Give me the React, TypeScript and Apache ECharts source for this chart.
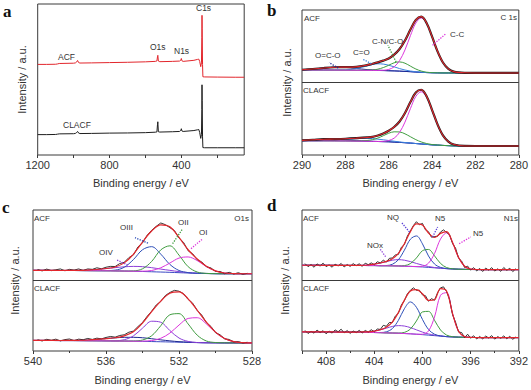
import React, { useEffect, useRef } from "react";
import * as echarts from "echarts";

// ---------------- Panel a : survey ----------------
const surveyEnergy = [1200, 1150, 1100, 1090, 1080, 1000, 990, 983, 978, 972, 965, 900, 800, 700, 600, 545, 536, 533, 531, 528, 520, 450, 410, 403, 400, 397, 390, 330, 310, 303, 298, 292, 288, 286, 285, 284, 282, 280, 270, 200, 100, 50];
const surveyACF = [60.0, 60.0, 60.1, 60.3, 60.6, 60.8, 61.0, 61.6, 62.6, 61.2, 60.9, 61.0, 61.2, 61.4, 61.7, 62.0, 62.3, 65.0, 66.0, 62.2, 61.8, 62.0, 62.2, 62.8, 63.9, 62.4, 62.0, 62.7, 63.3, 63.5, 62.0, 58.5, 61.0, 78.0, 92.5, 84.0, 60.0, 51.8, 51.7, 51.6, 51.5, 51.5];
const surveyCLACF = [13.5, 13.5, 13.6, 13.8, 14.0, 14.1, 14.3, 14.9, 15.6, 14.5, 14.2, 14.3, 14.5, 14.6, 14.8, 15.1, 15.3, 20.0, 22.0, 15.4, 15.2, 15.4, 15.6, 16.3, 17.4, 15.9, 15.6, 16.2, 16.7, 16.9, 15.0, 11.0, 13.5, 30.0, 46.5, 36.0, 12.0, 4.9, 4.8, 4.8, 4.8, 4.8];
const surveyTickValues = [1200, 1000, 800, 600, 400, 200];
const surveyLabelValues = [1200, 800, 400];

// ---------------- Panel b : C 1s ----------------
const c1sEnergy = [290, 289.5, 289, 288.5, 288, 287.5, 287, 286.75, 286.5, 286.25, 286, 285.75, 285.5, 285.25, 285, 284.75, 284.5, 284.25, 284, 283.75, 283.5, 283.25, 283, 282.5, 282, 281, 280];
const c1sAcfBase = [58.6, 58.6, 58.6, 58.55, 58.5, 58.45, 58.4, 58.35, 58.3, 58.2, 58.1, 58.0, 57.85, 57.65, 57.45, 57.2, 57.0, 56.85, 56.72, 56.65, 56.6, 56.6, 56.6, 56.6, 56.6, 56.6, 56.6];
const c1sAcfCC = [58.6, 58.6, 58.6, 58.55, 58.5, 58.45, 58.4, 58.35, 58.35, 58.44, 59.0, 60.8, 65.1, 72.5, 82.3, 91.0, 94.5, 90.7, 81.5, 71.5, 63.8, 59.4, 57.5, 56.65, 56.6, 56.6, 56.6];
const c1sAcfCN = [58.6, 58.6, 58.6, 58.55, 58.5, 58.45, 58.5, 58.6, 59.2, 60.3, 61.9, 63.6, 64.2, 63.3, 61.3, 59.3, 57.9, 57.1, 56.8, 56.65, 56.6, 56.6, 56.6, 56.6, 56.6, 56.6, 56.6];
const c1sAcfCO = [58.6, 58.6, 58.6, 58.6, 58.7, 59.6, 61.4, 62.4, 62.9, 62.7, 61.9, 60.8, 59.6, 58.6, 57.9, 57.4, 57.1, 56.85, 56.72, 56.65, 56.6, 56.6, 56.6, 56.6, 56.6, 56.6, 56.6];
const c1sAcfOCO = [58.8, 59.3, 60.0, 60.5, 60.4, 59.7, 58.9, 58.7, 58.5, 58.3, 58.1, 58.0, 57.85, 57.65, 57.45, 57.2, 57.0, 56.85, 56.72, 56.65, 56.6, 56.6, 56.6, 56.6, 56.6, 56.6, 56.6];
const c1sAcfFit = [58.8, 59.3, 60.0, 60.5, 60.6, 60.8, 62.0, 62.9, 63.9, 65.1, 66.6, 69.2, 73.1, 79.0, 86.5, 93.2, 95.4, 90.9, 81.6, 71.5, 63.8, 59.4, 57.5, 56.7, 56.6, 56.6, 56.6];
const c1sClBase = [9.8, 9.8, 9.8, 9.75, 9.7, 9.6, 9.5, 9.4, 9.3, 9.2, 9.1, 8.9, 8.7, 8.45, 8.2, 7.9, 7.6, 7.3, 7.0, 6.8, 6.6, 6.45, 6.3, 6.2, 6.2, 6.2, 6.2];
const c1sClCC = [9.8, 9.8, 9.8, 9.75, 9.7, 9.6, 9.5, 9.4, 9.35, 9.4, 10.0, 11.6, 15.6, 22.7, 32.0, 40.4, 43.6, 39.8, 30.8, 21.0, 13.5, 9.2, 7.2, 6.25, 6.2, 6.2, 6.2];
const c1sClCN = [9.8, 9.8, 9.8, 9.75, 9.7, 9.65, 10.0, 10.6, 11.7, 13.3, 15.0, 16.0, 15.9, 14.6, 12.6, 10.6, 9.0, 7.9, 7.2, 6.9, 6.6, 6.45, 6.3, 6.2, 6.2, 6.2, 6.2];
const c1sClCO = [9.8, 9.8, 9.9, 10.1, 10.6, 11.2, 11.5, 11.3, 10.9, 10.5, 10.0, 9.5, 9.0, 8.6, 8.3, 7.9, 7.6, 7.3, 7.0, 6.8, 6.6, 6.45, 6.3, 6.2, 6.2, 6.2, 6.2];
const c1sClOCO = [10.1, 10.5, 10.8, 10.7, 10.3, 9.9, 9.6, 9.45, 9.3, 9.2, 9.1, 8.9, 8.7, 8.45, 8.2, 7.9, 7.6, 7.3, 7.0, 6.8, 6.6, 6.45, 6.3, 6.2, 6.2, 6.2, 6.2];
const c1sClFit = [10.1, 10.5, 10.9, 11.0, 11.2, 11.6, 12.1, 12.5, 13.4, 14.8, 16.7, 19.3, 23.1, 29.0, 36.5, 43.1, 45.0, 40.4, 31.0, 21.1, 13.5, 9.2, 7.2, 6.25, 6.2, 6.2, 6.2];

// ---------------- Panel c : O 1s ----------------
const o1sEnergy = [540, 539.5, 539, 538.5, 538, 537.5, 537, 536.5, 536, 535.5, 535, 534.5, 534, 533.5, 533, 532.5, 532, 531.5, 531, 530.5, 530, 529.5, 529, 528.5, 528];
const o1sAcfBase = [57.2, 57.2, 57.15, 57.1, 57.1, 57.05, 57.0, 56.95, 56.9, 56.8, 56.7, 56.55, 56.4, 56.2, 56.0, 55.8, 55.55, 55.3, 55.1, 54.95, 54.85, 54.8, 54.8, 54.8, 54.8];
const o1sAcfOIII = [57.2, 57.2, 57.15, 57.1, 57.1, 57.05, 57.0, 56.95, 57.0, 57.35, 59.4, 64.8, 71.8, 74.0, 68.7, 61.4, 57.1, 55.6, 55.1, 54.95, 54.85, 54.8, 54.8, 54.8, 54.8];
const o1sAcfOII = [57.2, 57.2, 57.15, 57.1, 57.1, 57.05, 57.0, 56.95, 56.9, 56.8, 56.7, 56.8, 58.3, 63.5, 71.7, 74.6, 68.0, 59.8, 56.0, 55.05, 54.85, 54.8, 54.8, 54.8, 54.8];
const o1sAcfOI = [57.2, 57.2, 57.15, 57.1, 57.1, 57.05, 57.0, 56.95, 56.9, 56.8, 56.7, 56.6, 56.6, 57.1, 59.0, 62.4, 65.9, 66.7, 64.1, 59.9, 56.8, 55.3, 54.9, 54.8, 54.8];
const o1sAcfOIV = [57.2, 57.2, 57.15, 57.1, 57.2, 57.2, 57.4, 57.8, 58.4, 59.1, 59.7, 60.0, 59.8, 59.1, 58.1, 57.2, 56.3, 55.6, 55.2, 55.0, 54.85, 54.8, 54.8, 54.8, 54.8];
const o1sAcfFit = [57.2, 57.2, 57.15, 57.1, 57.2, 57.2, 57.4, 57.8, 58.5, 59.6, 62.5, 68.6, 77.3, 85.1, 89.5, 88.1, 80.5, 71.8, 65.2, 60.1, 56.8, 55.3, 54.9, 54.8, 54.8];
const o1sClBase = [7.5, 7.5, 7.45, 7.4, 7.4, 7.35, 7.3, 7.25, 7.2, 7.1, 7.05, 6.95, 6.85, 6.7, 6.55, 6.4, 6.25, 6.1, 5.95, 5.85, 5.8, 5.75, 5.75, 5.7, 5.7];
const o1sClOIII = [7.5, 7.5, 7.45, 7.4, 7.4, 7.35, 7.3, 7.25, 7.2, 7.25, 8.0, 10.7, 16.2, 21.1, 20.4, 14.5, 9.2, 6.8, 6.0, 5.85, 5.8, 5.75, 5.75, 5.7, 5.7];
const o1sClOII = [7.5, 7.5, 7.45, 7.4, 7.4, 7.35, 7.3, 7.25, 7.2, 7.1, 7.05, 7.1, 7.8, 10.8, 17.9, 25.7, 26.5, 19.2, 11.2, 7.1, 6.0, 5.8, 5.75, 5.7, 5.7];
const o1sClOI = [7.5, 7.5, 7.45, 7.4, 7.4, 7.35, 7.3, 7.25, 7.2, 7.1, 7.05, 6.95, 7.0, 7.4, 9.0, 12.7, 18.4, 23.1, 23.6, 19.2, 13.2, 8.8, 6.65, 5.9, 5.7];
const o1sClOIV = [7.5, 7.5, 7.45, 7.45, 7.5, 7.6, 7.8, 8.2, 8.8, 9.3, 9.7, 9.7, 9.4, 8.7, 7.9, 7.2, 6.6, 6.3, 6.0, 5.85, 5.8, 5.75, 5.75, 5.7, 5.7];
const o1sClFit = [7.5, 7.5, 7.5, 7.45, 7.5, 7.6, 7.8, 8.2, 8.8, 9.4, 10.7, 13.6, 19.8, 27.9, 35.4, 40.9, 41.9, 37.0, 28.9, 20.4, 13.4, 8.8, 6.65, 5.9, 5.7];
const o1sRawEnergy = [539.75, 539.5, 539.25, 539, 538.75, 538.5, 538.25, 538, 537.75, 537.5, 537.25, 537, 536.75, 536.5, 536.25, 536, 535.75, 535.5, 535.25, 535, 534.75, 534.5, 534.25, 534, 533.75, 533.5, 533.25, 533, 532.75, 532.5, 532.25, 532, 531.75, 531.5, 531.25, 531, 530.75, 530.5, 530.25, 530, 529.75, 529.5, 529.25, 529, 528.75, 528.5, 528.25];
const o1sAcfRaw = [57.8, 56.8, 58.1, 57.0, 57.6, 58.2, 56.9, 57.9, 57.4, 58.2, 57.2, 58.2, 57.9, 59.0, 58.3, 59.4, 60.0, 59.9, 62.0, 62.9, 66.2, 68.1, 73.8, 76.7, 82.0, 85.6, 88.4, 90.8, 89.6, 87.5, 85.4, 80.1, 77.0, 71.1, 68.9, 64.7, 63.1, 59.8, 58.9, 56.4, 56.4, 54.8, 55.8, 54.6, 55.5, 54.4, 55.1];
const o1sClRaw = [8.0, 7.1, 8.3, 7.6, 8.4, 7.15, 8.1, 8.5, 7.35, 8.4, 8.0, 8.9, 8.2, 9.1, 8.6, 9.6, 10.3, 9.8, 11.0, 11.5, 13.3, 14.1, 17.3, 20.2, 24.5, 28.2, 32.6, 35.1, 39.3, 41.5, 43.0, 42.4, 40.6, 36.6, 33.9, 28.7, 25.4, 20.1, 17.4, 13.0, 11.5, 8.6, 8.2, 6.35, 6.7, 5.6, 6.2];

// ---------------- Panel d : N 1s ----------------
const n1sEnergy = [410, 409.5, 409, 408.5, 408, 407.5, 407, 406.5, 406, 405.5, 405, 404.5, 404, 403.5, 403, 402.5, 402, 401.5, 401, 400.5, 400, 399.5, 399, 398.5, 398, 397.5, 397, 396.5, 396, 395.5, 395, 394.5, 394, 393.5, 393, 392.5, 392];
const n1sAcfBase = [60.8, 60.8, 60.8, 60.8, 60.75, 60.75, 60.7, 60.7, 60.7, 60.65, 60.65, 60.6, 60.6, 60.5, 60.45, 60.4, 60.3, 60.15, 60.0, 59.8, 59.6, 59.3, 59.0, 58.7, 58.4, 58.2, 58.0, 57.9, 57.8, 57.75, 57.7, 57.7, 57.7, 57.7, 57.7, 57.7, 57.7];
const n1sAcfNQ = [60.8, 60.8, 60.8, 60.8, 60.75, 60.75, 60.7, 60.7, 60.7, 60.65, 60.65, 60.6, 60.6, 60.5, 60.6, 61.5, 64.7, 71.5, 79.3, 81.6, 76.0, 67.4, 61.7, 59.3, 58.5, 58.2, 58.0, 57.9, 57.8, 57.75, 57.7, 57.7, 57.7, 57.7, 57.7, 57.7, 57.7];
const n1sAcfN5 = [60.8, 60.8, 60.8, 60.8, 60.75, 60.75, 60.7, 60.7, 60.7, 60.65, 60.65, 60.6, 60.6, 60.5, 60.45, 60.4, 60.35, 60.55, 62.0, 66.0, 71.1, 72.0, 67.5, 62.1, 59.2, 58.3, 58.0, 57.9, 57.8, 57.75, 57.7, 57.7, 57.7, 57.7, 57.7, 57.7, 57.7];
const n1sAcfN6 = [60.8, 60.8, 60.8, 60.8, 60.75, 60.75, 60.7, 60.7, 60.7, 60.65, 60.65, 60.6, 60.6, 60.5, 60.45, 60.4, 60.3, 60.15, 60.0, 59.9, 60.1, 62.3, 69.1, 79.4, 83.8, 76.9, 66.3, 60.1, 58.15, 57.8, 57.7, 57.7, 57.7, 57.7, 57.7, 57.7, 57.7];
const n1sAcfNOx = [60.8, 60.8, 60.8, 60.8, 60.75, 60.75, 60.7, 60.7, 60.7, 60.7, 60.8, 61.0, 61.6, 62.35, 63.4, 64.4, 64.8, 64.4, 63.4, 62.1, 60.9, 59.9, 59.2, 58.8, 58.4, 58.2, 58.0, 57.9, 57.8, 57.75, 57.7, 57.7, 57.7, 57.7, 57.7, 57.7, 57.7];
const n1sAcfFit = [60.8, 60.8, 60.8, 60.8, 60.75, 60.75, 60.7, 60.7, 60.7, 60.7, 60.8, 61.0, 61.6, 62.4, 63.6, 65.5, 69.2, 76.1, 84.7, 90.1, 89.3, 83.7, 80.5, 83.4, 84.7, 77.0, 66.3, 60.1, 58.15, 57.8, 57.7, 57.7, 57.7, 57.7, 57.7, 57.7, 57.7];
const n1sClBase = [13.6, 13.6, 13.55, 13.55, 13.5, 13.5, 13.45, 13.45, 13.4, 13.35, 13.3, 13.2, 13.1, 13.0, 12.85, 12.75, 12.6, 12.4, 12.2, 11.9, 11.6, 11.25, 10.9, 10.55, 10.2, 10.0, 9.8, 9.7, 9.6, 9.55, 9.5, 9.5, 9.5, 9.5, 9.5, 9.5, 9.5];
const n1sClNQ = [13.6, 13.6, 13.55, 13.55, 13.5, 13.5, 13.45, 13.45, 13.4, 13.35, 13.3, 13.2, 13.1, 13.1, 13.6, 15.9, 21.7, 30.0, 34.8, 31.0, 22.4, 15.3, 11.9, 10.7, 10.2, 10.0, 9.8, 9.7, 9.6, 9.55, 9.5, 9.5, 9.5, 9.5, 9.5, 9.5, 9.5];
const n1sClN5 = [13.6, 13.6, 13.55, 13.55, 13.5, 13.5, 13.45, 13.45, 13.4, 13.35, 13.3, 13.2, 13.1, 13.0, 12.85, 12.75, 12.7, 13.2, 15.6, 21.3, 27.7, 28.1, 21.8, 14.9, 11.3, 10.15, 9.8, 9.7, 9.6, 9.55, 9.5, 9.5, 9.5, 9.5, 9.5, 9.5, 9.5];
const n1sClN6 = [13.6, 13.6, 13.55, 13.55, 13.5, 13.5, 13.45, 13.45, 13.4, 13.35, 13.3, 13.2, 13.1, 13.0, 12.85, 12.75, 12.6, 12.4, 12.2, 11.9, 11.9, 14.2, 24.1, 39.55, 41.4, 26.4, 14.0, 10.2, 9.6, 9.55, 9.5, 9.5, 9.5, 9.5, 9.5, 9.5, 9.5];
const n1sClNOx = [13.6, 13.6, 13.55, 13.55, 13.5, 13.5, 13.45, 13.45, 13.4, 13.4, 13.5, 13.6, 14.1, 15.0, 16.2, 17.4, 18.0, 17.7, 16.6, 15.0, 13.4, 12.1, 11.3, 10.7, 10.2, 10.0, 9.8, 9.7, 9.6, 9.55, 9.5, 9.5, 9.5, 9.5, 9.5, 9.5, 9.5];
const n1sClFit = [13.6, 13.6, 13.55, 13.55, 13.5, 13.5, 13.45, 13.45, 13.4, 13.4, 13.5, 13.6, 14.1, 15.1, 16.9, 20.5, 27.3, 36.1, 42.6, 43.5, 40.6, 35.9, 36.4, 44.2, 42.6, 26.55, 14.0, 10.2, 9.65, 9.55, 9.5, 9.5, 9.5, 9.5, 9.5, 9.5, 9.5];
const n1sRawEnergy = [409.75, 409.5, 409.25, 409, 408.75, 408.5, 408.25, 408, 407.75, 407.5, 407.25, 407, 406.75, 406.5, 406.25, 406, 405.75, 405.5, 405.25, 405, 404.75, 404.5, 404.25, 404, 403.75, 403.5, 403.25, 403, 402.75, 402.5, 402.25, 402, 401.75, 401.5, 401.25, 401, 400.75, 400.5, 400.25, 400, 399.75, 399.5, 399.25, 399, 398.75, 398.5, 398.25, 398, 397.75, 397.5, 397.25, 397, 396.75, 396.5, 396.25, 396, 395.75, 395.5, 395.25, 395, 394.75, 394.5, 394.25, 394, 393.75, 393.5, 393.25, 393, 392.75, 392.5, 392.25];
const n1sAcfRaw = [62.0, 59.8, 61.3, 59.4, 61.8, 60.2, 62.3, 59.85, 61.05, 59.45, 61.6, 60.3, 62.1, 59.6, 61.3, 60.0, 62.0, 60.5, 61.85, 60.0, 62.3, 61.2, 62.5, 61.1, 63.3, 62.5, 64.4, 63.0, 65.7, 66.0, 68.1, 68.5, 73.6, 75.5, 81.5, 85.1, 89.0, 91.7, 89.5, 90.5, 85.9, 84.6, 80.7, 81.2, 81.3, 84.4, 85.9, 84.1, 82.5, 76.2, 72.9, 65.8, 63.8, 59.2, 60.2, 57.35, 59.1, 56.8, 58.55, 56.4, 58.8, 57.3, 59.1, 56.7, 58.3, 56.5, 59.2, 57.2, 58.7, 56.3, 58.4];
const n1sClRaw = [14.6, 12.4, 14.0, 12.65, 14.85, 13.05, 14.4, 12.2, 14.1, 12.7, 14.95, 13.65, 15.45, 12.85, 14.5, 12.5, 14.2, 13.0, 14.65, 12.8, 14.55, 13.4, 15.1, 13.6, 15.6, 15.3, 18.2, 17.5, 20.2, 20.2, 24.8, 26.7, 32.7, 35.7, 40.6, 43.1, 44.8, 43.0, 43.1, 39.8, 39.2, 35.3, 37.1, 36.0, 41.2, 44.8, 45.5, 42.1, 36.5, 25.75, 20.4, 13.4, 13.1, 9.5, 11.9, 9.05, 10.8, 8.55, 10.3, 8.6, 10.6, 9.2, 10.9, 8.4, 10.2, 9.0, 10.7, 8.7, 10.4, 8.3, 10.0];

// ---------------- styling ----------------
const FONT = "'Liberation Sans', Arial, Helvetica, sans-serif";
const AX = "#3a3a3a";
const RED = "#e2262c";
const BLACK = "#1e1e1e";
const MAGENTA = "#dc36dc";
const GREEN = "#3f9c3f";
const BLUE = "#2d4fb8";
const LIGHTBLUE = "#3b82e0";
const NAVY = "#1d2a92";
const PURPLE = "#8c3fd8";
const BASE = "#3a48c4";

const zip = (xs: number[], ys: number[]) => xs.map((x, i) => [x, ys[i]]);
const plainLabel = (v: number) => String(v);

function line(grid: number, xs: number[], ys: number[], color: string, width = 1, smooth = true, extra: any = {}) {
  return {
    type: "line",
    xAxisIndex: grid,
    yAxisIndex: grid,
    data: zip(xs, ys),
    symbol: "none",
    showSymbol: false,
    smooth: smooth ? 0.35 : false,
    lineStyle: { color, width },
    silent: true,
    animation: false,
    emphasis: { disabled: true },
    ...extra,
  };
}

const separator = {
  markLine: {
    silent: true,
    animation: false,
    symbol: "none",
    label: { show: false },
    lineStyle: { color: AX, width: 1, type: "solid" },
    data: [{ yAxis: 50 }],
  },
};

function arrows(list: [number[], number[], string][]) {
  return {
    markLine: {
      silent: true,
      animation: false,
      symbol: ["none", "arrow"],
      symbolSize: [0, 6],
      label: { show: false },
      data: list.map(([from, to, color]) => [
        { coord: from, lineStyle: { color, type: "dotted", width: 1.3 } },
        { coord: to },
      ]),
    },
  };
}

const labelStyle = { fontSize: 11, color: "#333", fontFamily: FONT, margin: 4, formatter: plainLabel };

function xAxis(grid: number, min: number, max: number, extra: any, gap: number) {
  return {
    gridIndex: grid,
    type: "value",
    inverse: true,
    min,
    max,
    name: "Binding energy / eV",
    nameLocation: "middle",
    nameGap: gap,
    nameTextStyle: { fontSize: 11, color: "#333", fontFamily: FONT },
    axisLine: { show: false },
    axisTick: { show: true, inside: false, length: 3, lineStyle: { color: AX } },
    minorTick: { show: true, splitNumber: 2, length: 2, lineStyle: { color: AX } },
    axisLabel: { ...labelStyle },
    splitLine: { show: false },
    minorSplitLine: { show: false },
    ...extra,
  };
}

function yAxis(grid: number, gap: number) {
  return {
    gridIndex: grid,
    type: "value",
    min: 0,
    max: 100,
    name: "Intensity / a.u.",
    nameLocation: "middle",
    nameRotate: 90,
    nameGap: gap,
    nameTextStyle: { fontSize: 11, color: "#333", fontFamily: FONT },
    axisLine: { show: false },
    axisTick: { show: false },
    axisLabel: { show: false },
    splitLine: { show: false },
  };
}

function txt(x: number, y: number, text: string, align = "left", size = 8) {
  return {
    type: "text",
    x,
    y,
    silent: true,
    style: { text, fontSize: size, fontFamily: FONT, fill: "#333", align, verticalAlign: "middle" },
  };
}

function letter(x: number, y: number, text: string) {
  return {
    type: "text",
    x,
    y,
    silent: true,
    style: {
      text,
      fontSize: 17,
      fontWeight: "bold",
      fontFamily: "'Liberation Serif', 'DejaVu Serif', serif",
      fill: "#111",
      align: "left",
      verticalAlign: "middle",
    },
  };
}

const gridBox = { show: true, borderColor: AX, borderWidth: 1, backgroundColor: "transparent" };

const option: any = {
  animation: false,
  backgroundColor: "#ffffff",
  grid: [
    { ...gridBox, left: 37.7, top: 4, width: 206.5, height: 151 },
    { ...gridBox, left: 302, top: 10, width: 218, height: 145 },
    { ...gridBox, left: 33, top: 210, width: 219, height: 141 },
    { ...gridBox, left: 302, top: 210, width: 218, height: 141 },
  ],
  xAxis: [
    xAxis(0, 50, 1200, {
      axisTick: { show: true, inside: false, length: 3, lineStyle: { color: AX }, customValues: surveyTickValues },
      minorTick: { show: false },
      axisLabel: { ...labelStyle, customValues: surveyLabelValues },
    }, 22),
    xAxis(1, 280, 290, { interval: 2 }, 22),
    xAxis(2, 528, 540, { interval: 4 }, 23.5),
    xAxis(3, 392, 410, {
      interval: 4,
      axisLabel: { ...labelStyle, showMaxLabel: false },
    }, 23.5),
  ],
  yAxis: [yAxis(0, 10), yAxis(1, 9.5), yAxis(2, 12.5), yAxis(3, 11.5)],
  series: [
    // panel a
    line(0, surveyEnergy, surveyACF, RED, 1, false),
    line(0, surveyEnergy, surveyCLACF, BLACK, 1, false),

    // panel b – ACF
    line(1, c1sEnergy, c1sAcfBase, BASE),
    line(1, c1sEnergy, c1sAcfOCO, NAVY),
    line(1, c1sEnergy, c1sAcfCO, LIGHTBLUE),
    line(1, c1sEnergy, c1sAcfCN, GREEN),
    line(1, c1sEnergy, c1sAcfCC, MAGENTA),
    line(1, c1sEnergy, c1sAcfFit, BLACK, 2.2),
    line(1, c1sEnergy, c1sAcfFit, RED, 1.1, true, arrows([
      [[288.33, 60.0], [288.75, 63.7], NAVY],
      [[286.8, 63.0], [287.19, 66.0], LIGHTBLUE],
      [[285.66, 64.1], [286.04, 75.7], GREEN],
      [[283.98, 75.7], [283.36, 83.7], MAGENTA],
    ])),
    // panel b – CLACF
    line(1, c1sEnergy, c1sClBase, BASE, 1, true, separator),
    line(1, c1sEnergy, c1sClOCO, NAVY),
    line(1, c1sEnergy, c1sClCO, LIGHTBLUE),
    line(1, c1sEnergy, c1sClCN, GREEN),
    line(1, c1sEnergy, c1sClCC, MAGENTA),
    line(1, c1sEnergy, c1sClFit, BLACK, 2.2),
    line(1, c1sEnergy, c1sClFit, RED, 1.1),

    // panel c – ACF
    line(2, o1sEnergy, o1sAcfBase, BASE),
    line(2, o1sEnergy, o1sAcfOIV, PURPLE),
    line(2, o1sEnergy, o1sAcfOIII, BLUE),
    line(2, o1sEnergy, o1sAcfOII, GREEN),
    line(2, o1sEnergy, o1sAcfOI, MAGENTA),
    line(2, o1sRawEnergy, o1sAcfRaw, BLACK, 0.9, false),
    line(2, o1sEnergy, o1sAcfFit, RED, 1.2, true, arrows([
      [[533.7, 76.5], [534.41, 80.4], BLUE],
      [[532.35, 76.1], [531.8, 86.7], GREEN],
      [[531.34, 72.6], [530.7, 79.6], MAGENTA],
      [[534.81, 61.0], [535.45, 64.8], PURPLE],
    ])),
    // panel c – CLACF
    line(2, o1sEnergy, o1sClBase, BASE, 1, true, separator),
    line(2, o1sEnergy, o1sClOIV, NAVY),
    line(2, o1sEnergy, o1sClOIII, PURPLE),
    line(2, o1sEnergy, o1sClOII, GREEN),
    line(2, o1sEnergy, o1sClOI, MAGENTA),
    line(2, o1sRawEnergy, o1sClRaw, BLACK, 0.9, false),
    line(2, o1sEnergy, o1sClFit, RED, 1.2),

    // panel d – ACF
    line(3, n1sEnergy, n1sAcfBase, BASE),
    line(3, n1sEnergy, n1sAcfNOx, PURPLE),
    line(3, n1sEnergy, n1sAcfNQ, BLUE),
    line(3, n1sEnergy, n1sAcfN5, GREEN),
    line(3, n1sEnergy, n1sAcfN6, MAGENTA),
    line(3, n1sRawEnergy, n1sAcfRaw, BLACK, 0.9, false),
    line(3, n1sEnergy, n1sAcfFit, RED, 1.2, true, arrows([
      [[401.08, 84.4], [401.77, 91.5], "#5a3fd6"],
      [[399.16, 80.9], [398.74, 87.9], "#5a3fd6"],
      [[396.95, 76.1], [395.99, 80.9], MAGENTA],
      [[403.06, 66.9], [403.5, 72.1], PURPLE],
    ])),
    // panel d – CLACF
    line(3, n1sEnergy, n1sClBase, BASE, 1, true, separator),
    line(3, n1sEnergy, n1sClNOx, PURPLE),
    line(3, n1sEnergy, n1sClNQ, BLUE),
    line(3, n1sEnergy, n1sClN5, GREEN),
    line(3, n1sEnergy, n1sClN6, MAGENTA),
    line(3, n1sRawEnergy, n1sClRaw, BLACK, 0.9, false),
    line(3, n1sEnergy, n1sClFit, RED, 1.2),
  ],
  graphic: [
    letter(3, 11, "a"),
    letter(267, 10, "b"),
    letter(2, 207, "c"),
    letter(267, 205, "d"),
    // panel a
    txt(58, 57, "ACF", "left", 8.5),
    txt(150, 47, "O1s", "left", 8.5),
    txt(174, 51, "N1s", "left", 8.5),
    txt(196, 8, "C1s", "left", 8.5),
    txt(63, 125, "CLACF", "left", 8.5),
    // panel b
    txt(304, 18.5, "ACF"),
    txt(517, 17.5, "C 1s", "right"),
    txt(315, 55, "O=C-O"),
    txt(353, 52, "C=O"),
    txt(372, 41, "C-N/C-O"),
    txt(450, 34, "C-C"),
    txt(303, 90, "CLACF"),
    // panel c
    txt(34, 218.7, "ACF"),
    txt(249, 218.7, "O1s", "right"),
    txt(120, 227, "OIII"),
    txt(178, 222, "OII"),
    txt(199, 232, "OI"),
    txt(99, 252, "OIV"),
    txt(34, 288.7, "CLACF"),
    // panel d
    txt(303, 218.7, "ACF"),
    txt(518, 218.7, "N1s", "right"),
    txt(387, 217, "NQ"),
    txt(435, 218.7, "N5"),
    txt(473, 233.7, "N5"),
    txt(367, 245.3, "NOx"),
    txt(303, 288.7, "CLACF"),
  ],
};

export default function App() {
  const ref = useRef<HTMLDivElement>(null);
  useEffect(() => {
    document.body.style.margin = "0";
    const chart = echarts.init(ref.current!, null, { renderer: "svg" });
    chart.setOption(option);
    return () => chart.dispose();
  }, []);
  return <div ref={ref} style={{ width: 531, height: 390, background: "#fff" }} />;
}
